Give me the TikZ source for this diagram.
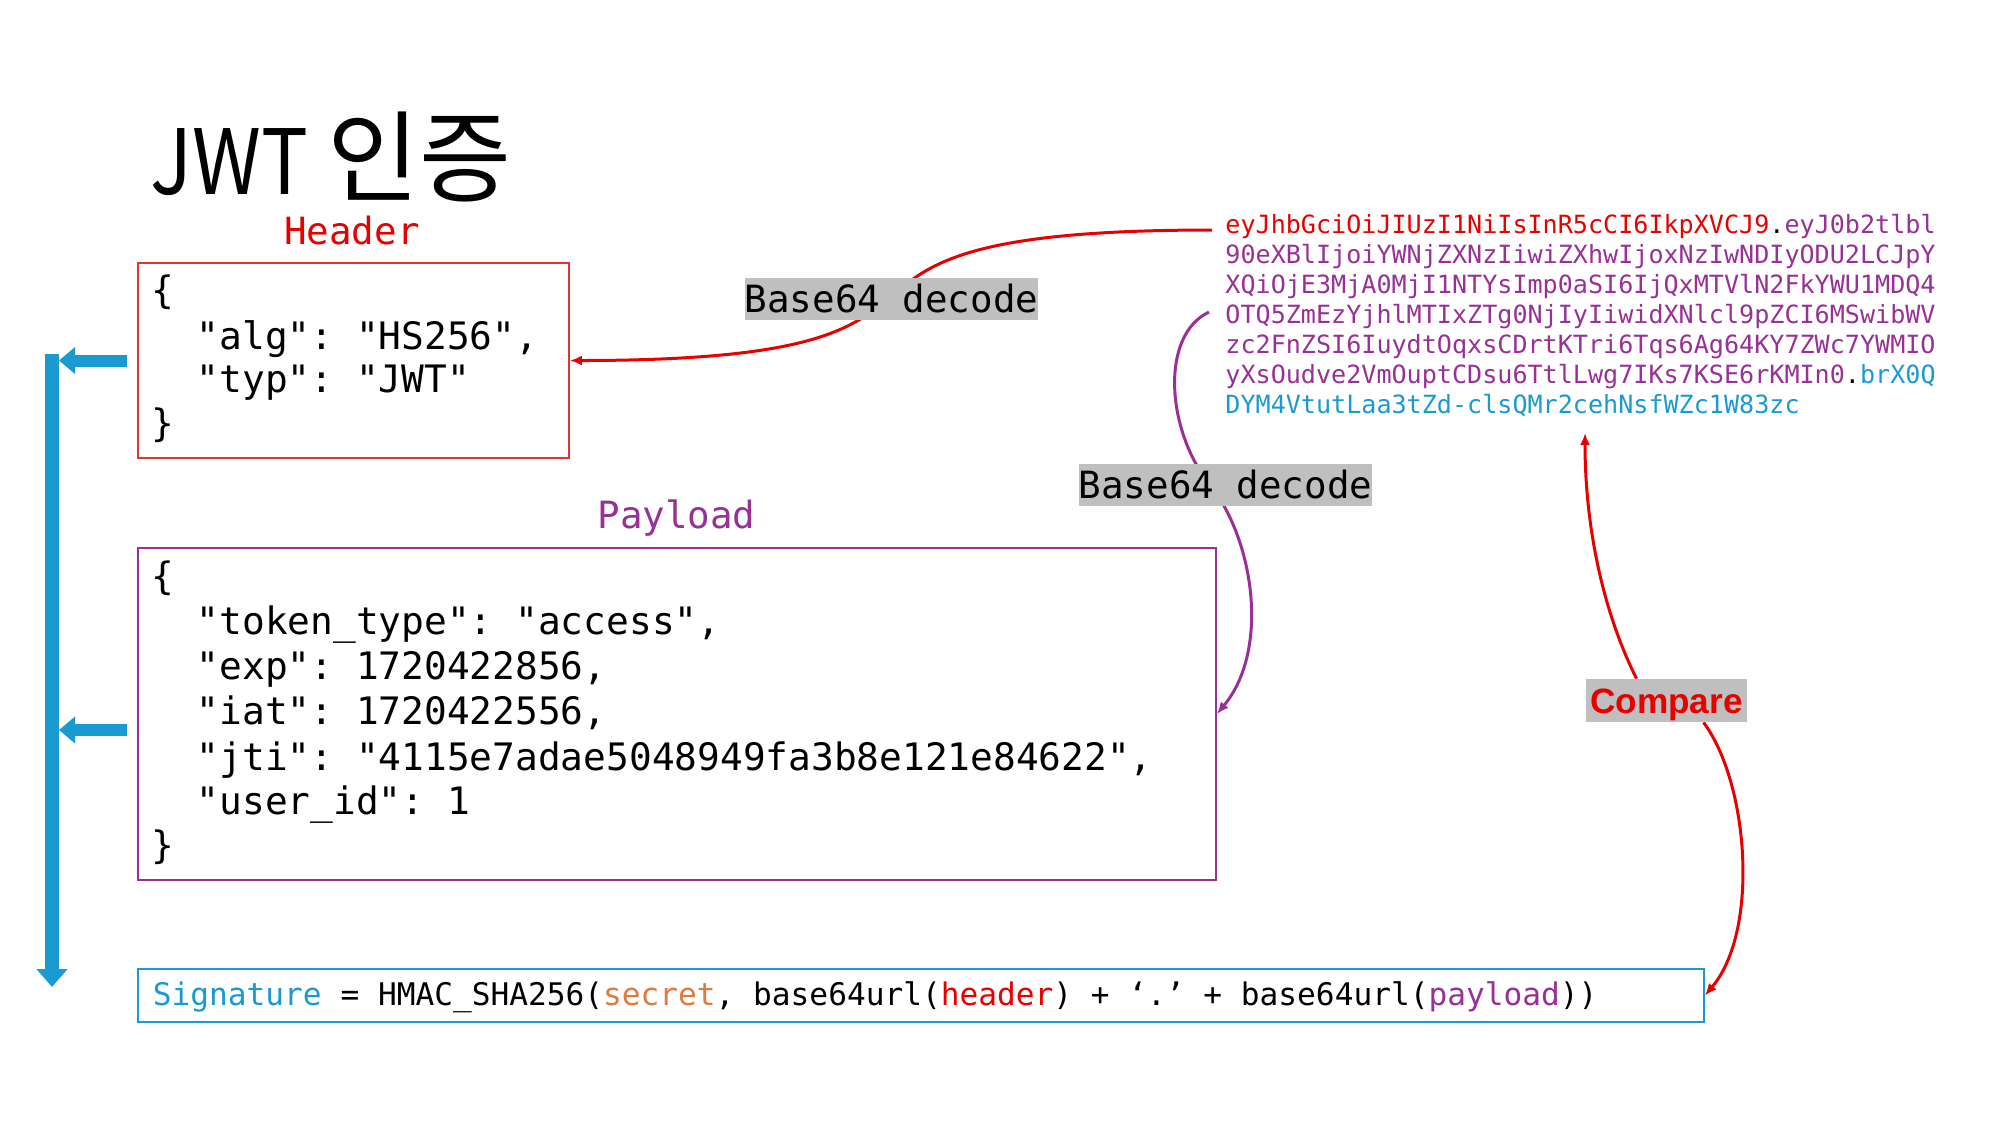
\documentclass[tikz,border=0pt]{standalone}
\usepackage{graphicx}
\usepackage{fontspec}
\setmonofont{DejaVu Sans Mono}
\newfontfamily\cjkfont{Noto Sans CJK KR}
\newfontfamily\lsfont{Liberation Sans}
\usetikzlibrary{arrows.meta,calc,backgrounds}
\definecolor{jred}{RGB}{232,0,0}
\definecolor{jredbox}{RGB}{226,50,50}
\definecolor{jpur}{RGB}{152,48,150}
\definecolor{jblue}{RGB}{25,155,210}
\definecolor{jorange}{RGB}{226,122,62}
\definecolor{jgray}{RGB}{191,191,191}
\tikzset{
  jcode/.style={font=\ttfamily\fontsize{18.9pt}{22.5pt}\selectfont, inner sep=0pt, anchor=base west},
  jlbl/.style={font=\ttfamily\fontsize{18.75pt}{22.5pt}\selectfont, inner sep=0pt, anchor=base},
  tokline/.style={font=\ttfamily\fontsize{12.55pt}{15pt}\selectfont, inner sep=0pt, anchor=base west, text=jpur},
  sigtext/.style={font=\ttfamily\fontsize{15.58pt}{18pt}\selectfont, inner sep=0pt, anchor=base west},
  jbox/.style={draw, line width=0.9pt, inner sep=0pt},
  decodelbl/.style={fill=jgray, font=\ttfamily\fontsize{18.75pt}{22.5pt}\selectfont, inner xsep=0pt, inner ysep=0pt, text height=17pt, text depth=4pt},
  cmplbl/.style={fill=jgray, text=jred, font=\lsfont\bfseries\fontsize{17.6pt}{20pt}\selectfont, inner xsep=2pt, inner ysep=0pt, text height=17pt, text depth=4.5pt},
  jcurve/.style={line width=1.5pt, -{Latex[length=6pt,width=5pt]}},
  busarrow/.style={jblue, line width=6pt, -{Triangle[length=8pt,width=13pt]}},
}
\begin{document}
\begin{tikzpicture}[x=0.5pt,y=-0.5pt]
\useasboundingbox (0,0) rectangle (2000,1125);

% title
\node[anchor=base west, inner sep=0pt, font=\cjkfont] (title) at (150,194) {{\fontsize{45pt}{54pt}\selectfont\scalebox{0.87}[1]{JWT}\hspace{10pt}}{\fontsize{50pt}{54pt}\selectfont 인증}};

% header
\node[jlbl, text=jred] (hdrlbl) at (352,244) {Header};
\node[jbox, draw=jredbox, minimum width=215.5pt, minimum height=97.5pt] (hdr) at (353.5,360.5) {};
\node[jcode] (h1) at (151,303) {\{};
\node[jcode] (h2) at (196.5,349.5) {"alg": "HS256",};
\node[jcode] (h3) at (196.5,392) {"typ": "JWT"};
\node[jcode] (h4) at (151,436.5) {\}};

% payload
\node[jlbl, text=jpur] (paylbl) at (676.5,528) {Payload};
\node[jbox, draw=jpur, minimum width=539pt, minimum height=166pt] (pay) at (677,714) {};
\node[jcode] (p1) at (151,589) {\{};
\node[jcode] (p2) at (196.5,634.5) {"token\_type": "access",};
\node[jcode] (p3) at (196.5,679) {"exp": 1720422856,};
\node[jcode] (p4) at (196.5,724.5) {"iat": 1720422556,};
\node[jcode] (p5) at (196.5,770) {"jti": "4115e7adae5048949fa3b8e121e84622",};
\node[jcode] (p6) at (196.5,814) {"user\_id": 1};
\node[jcode] (p7) at (151,858.5) {\}};

% signature
\node[jbox, draw=jblue, minimum width=783pt, minimum height=26.5pt] (sig) at (921,995.5) {};
\node[sigtext] (sigt) at (152.5,1005) {{\color{jblue}Signature} = HMAC\_SHA256({\color{jorange}secret}, base64url({\color{jred}header}) + ‘.’ + base64url({\color{jpur}payload}))};

% token
\node[tokline] (tok1) at (1225,233) {{\color{jred}eyJhbGciOiJIUzI1NiIsInR5cCI6IkpXVCJ9}{\color{black}.}eyJ0b2tlbl};
\node[tokline] (tok2) at (1225,263) {90eXBlIjoiYWNjZXNzIiwiZXhwIjoxNzIwNDIyODU2LCJpY};
\node[tokline] (tok3) at (1225,293) {XQiOjE3MjA0MjI1NTYsImp0aSI6IjQxMTVlN2FkYWU1MDQ4};
\node[tokline] (tok4) at (1225,323) {OTQ5ZmEzYjhlMTIxZTg0NjIyIiwidXNlcl9pZCI6MSwibWV};
\node[tokline] (tok5) at (1225,353) {zc2FnZSI6IuydtOqxsCDrtKTri6Tqs6Ag64KY7ZWc7YWMIO};
\node[tokline] (tok6) at (1225,383) {yXsOudve2VmOuptCDsu6TtlLwg7IKs7KSE6rKMIn0{\color{black}.}{\color{jblue}brX0Q}};
\node[tokline, text=jblue] (tok7) at (1225,413) {DYM4VtutLaa3tZd-clsQMr2cehNsfWZc1W83zc};

% labels
\node[decodelbl] (dec1) at (891.5,299) {Base64 decode};
\node[decodelbl] (dec2) at (1225.5,485) {Base64 decode};
\node[cmplbl] (cmp) at (1666.5,700.5) {Compare};

\coordinate (cmptop) at (1585,433);
\coordinate (bustop) at (52,354);
\coordinate (busbot) at (52,987);

\begin{pgfonlayer}{background}
\fill[white] (0,0) rectangle (2000,1125);
% decode curves
\draw[jcurve, jred] ($(tok1.west)+(-13,4)$) .. controls +(-480,0) and +(480,0) .. (hdr.east);
\draw[jcurve, jpur] ($(tok4.west)+(-16,-4)$) .. controls (1160,335) and (1166,430) .. (1210,485) .. controls (1254,540) and (1270,650) .. (pay.east);
% compare curves
\draw[jcurve, jred] ($(cmp.north)+(-30,0)$) .. controls +(-35,-70) and +(0,90) .. (cmptop);
\draw[jcurve, jred] ($(cmp.south)+(37,0)$) .. controls +(45,60) and +(55,-65) .. (sig.east);
\end{pgfonlayer}

% blue bus
\draw[jblue, line width=7pt, -{Triangle[length=9pt,width=15pt]}] (bustop) -- (busbot);
\draw[busarrow] ($(hdr.west)+(-10,0)$) -- ($(bustop |- hdr.west)+(7,0)$);
\draw[busarrow] ($(pay.west)+(-10,16)$) -- ($(bustop |- pay.west)+(7,16)$);
\end{tikzpicture}
\end{document}
